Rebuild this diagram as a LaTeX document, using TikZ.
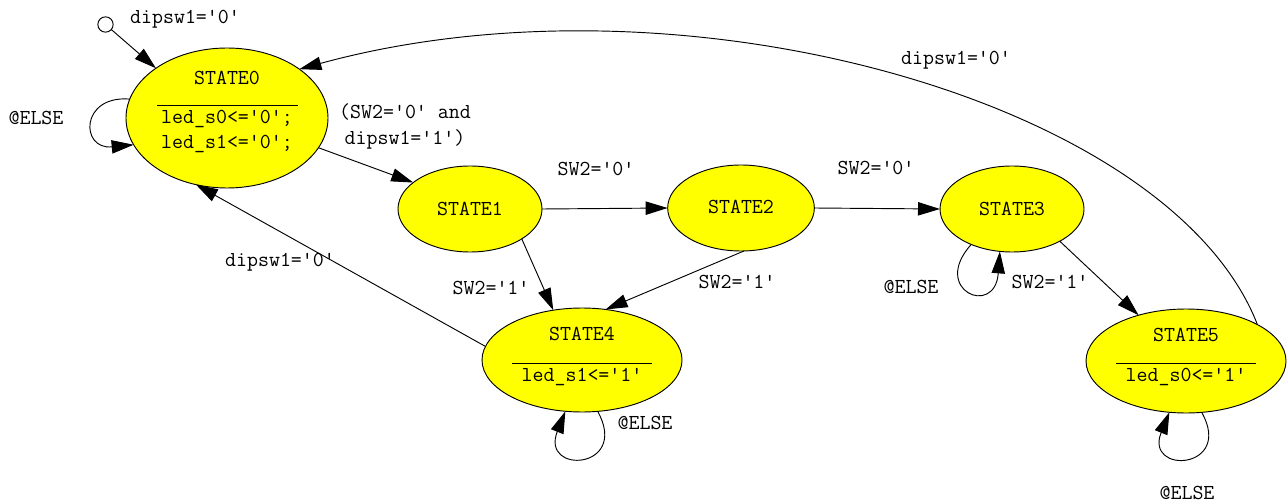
\documentclass[tikz,border=0pt]{standalone}
\usepackage{fontspec}
\usetikzlibrary{shapes.geometric,arrows.meta}
\definecolor{stfill}{RGB}{255,255,0}
\begin{document}
\begin{tikzpicture}[x=0.75pt,y=-0.75pt,
  font=\ttfamily\fontsize{16}{19.5}\selectfont,
  st/.style={ellipse,draw=black,fill=stfill,line width=0.7pt,inner sep=0pt,outer sep=0pt},
  txt/.style={inner sep=0pt,anchor=base},
  edge/.style={line width=0.7pt,-{Triangle[length=16.5pt,width=10pt]}},
  rule/.style={line width=0.7pt},
]
\useasboundingbox (0,0) rectangle (1287,502);

% states
\node[circle,draw,line width=0.7pt,minimum size=11.5pt,inner sep=0pt,outer sep=0pt] (init) at (105.5,24.5) {};
\node[st,minimum width=151.5pt,minimum height=105pt] (s0) at (227,118) {};
\node[st,minimum width=108pt,minimum height=64.5pt] (s1) at (470,209) {};
\node[st,minimum width=110pt,minimum height=64.5pt] (s2) at (741,208) {};
\node[st,minimum width=108pt,minimum height=64.5pt] (s3) at (1012,209) {};
\node[st,minimum width=150pt,minimum height=78pt] (s4) at (582,360) {};
\node[st,minimum width=150pt,minimum height=78pt] (s5) at (1186,361) {};

% state texts
\node[txt] (t0) at (227,85) {STATE0};
\draw[rule] (157,105) -- (298,105);
\node[txt] (t0a) at (227,124) {led\_s0<='0';};
\node[txt] (t0b) at (227,149) {led\_s1<='0';};
\node[txt] (t1) at (470,215) {STATE1};
\node[txt] (t2) at (741,214) {STATE2};
\node[txt] (t3) at (1012,215) {STATE3};
\node[txt] (t4) at (582,340) {STATE4};
\draw[rule] (512,363) -- (652,363);
\node[txt] (t4a) at (582,381) {led\_s1<='1'};
\node[txt] (t5) at (1186,341) {STATE5};
\draw[rule] (1116,363) -- (1256,363);
\node[txt] (t5a) at (1186,381) {led\_s0<='1'};

% edges
\draw[edge] (init) -- (s0.145);
\draw[edge] (s0.169) .. controls (80,95) and (80,150) .. (s0.196);
\draw[edge] (s0.-18) -- (s1.155);
\draw[edge] (s1.east) -- (s2.west);
\draw[edge] (s2.east) -- (s3.west);
\draw[edge] (s1.-30) -- (s4.120);
\draw[edge] (s2.-86) -- (s4.65);
\draw[edge] (s3.-34) -- (s5.136);
\draw[edge] (s3.-139) .. controls (930,290) and (995,318) .. (s3.-106);
\draw[edge] (s4.172) -- (s0.-115);
\draw[edge] (s5.27) .. controls (1170,100) and (680,-35) .. (s0.34);
\draw[edge] (s4.-73) .. controls (630,470) and (540,475) .. (s4.-108);
\draw[edge] (s5.-73) .. controls (1234,470) and (1144,475) .. (s5.-108);

% edge labels
\node[txt] (l0) at (185,24) {dipsw1='0'};
\node[txt] (l1) at (36,125) {@ELSE};
\node[txt,anchor=center,align=center] (l2) at (405,126) {(SW2='0' and\\dipsw1='1')};
\node[txt] (l3) at (596,176) {SW2='0'};
\node[txt] (l4) at (876,175) {SW2='0'};
\node[txt] (l5) at (491,294) {SW2='1'};
\node[txt] (l6) at (737,288) {SW2='1'};
\node[txt] (l7) at (1050,288) {SW2='1'};
\node[txt] (l8) at (911,293) {@ELSE};
\node[txt] (l9) at (280,267) {dipsw1='0'};
\node[txt] (l10) at (956,65) {dipsw1='0'};
\node[txt] (l11) at (645,429) {@ELSE};
\node[txt] (l12) at (1187,499) {@ELSE};
\end{tikzpicture}
\end{document}
